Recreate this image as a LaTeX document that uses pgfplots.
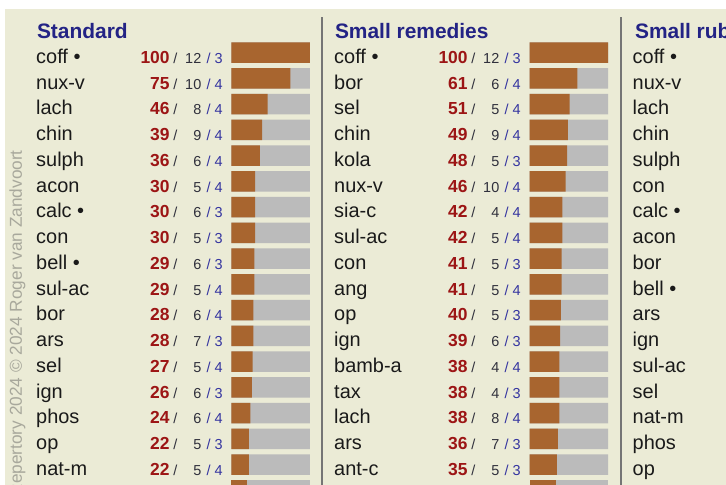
\documentclass[border=0pt]{standalone}
\usepackage{pgfplots}
\pgfplotsset{compat=1.18}
\usepackage{pgfplotstable}
\usepackage{fontspec}
\setmainfont{Liberation Sans}
\definecolor{bg}{HTML}{EBEBD6}
\definecolor{brownbar}{HTML}{A8652F}
\definecolor{graybar}{HTML}{BBBBBB}
\definecolor{scorered}{HTML}{9C1515}
\definecolor{numdark}{HTML}{30303C}
\definecolor{numblue}{HTML}{3434A0}
\definecolor{titleblue}{HTML}{232385}
\definecolor{namecol}{HTML}{1A1A1A}
\definecolor{sepgray}{HTML}{757575}
\definecolor{wmgray}{HTML}{A8A89C}

\pgfplotstableread[col sep=comma]{
row,name,score,n1,n2,full
0,coff •,100,12,3,100
1,nux-v,75,10,4,100
2,lach,46,8,4,100
3,chin,39,9,4,100
4,sulph,36,6,4,100
5,acon,30,5,4,100
6,calc •,30,6,3,100
7,con,30,5,3,100
8,bell •,29,6,3,100
9,sul-ac,29,5,4,100
10,bor,28,6,4,100
11,ars,28,7,3,100
12,sel,27,5,4,100
13,ign,26,6,3,100
14,phos,24,6,4,100
15,op,22,5,3,100
16,nat-m,22,5,4,100
}\colA

\pgfplotstableread[col sep=comma]{
row,name,score,n1,n2,full
0,coff •,100,12,3,100
1,bor,61,6,4,100
2,sel,51,5,4,100
3,chin,49,9,4,100
4,kola,48,5,3,100
5,nux-v,46,10,4,100
6,sia-c,42,4,4,100
7,sul-ac,42,5,4,100
8,con,41,5,3,100
9,ang,41,5,4,100
10,op,40,5,3,100
11,ign,39,6,3,100
12,bamb-a,38,4,4,100
13,tax,38,4,3,100
14,lach,38,8,4,100
15,ars,36,7,3,100
16,ant-c,35,5,3,100
}\colB

\pgfplotstableread[col sep=comma]{
row,name
0,coff •
1,nux-v
2,lach
3,chin
4,sulph
5,con
6,calc •
7,acon
8,bor
9,bell •
10,ars
11,ign
12,sul-ac
13,sel
14,nat-m
15,phos
16,op
}\colC

\pgfplotsset{
  colaxis/.style={
    hide axis, clip=false, scale only axis,
    x=0.785bp, y=25.75bp, y dir=reverse,
    xmin=-288, xmax=115, ymin=-1.5, ymax=17.5,
    anchor=north west,
  },
  txt/.style={draw=none, mark=none, point meta=explicit symbolic,
    every node near coord/.append style={inner sep=0pt, yshift=-10.8bp, #1}},
  bgbar/.style={xbar, bar width=20.5bp, bar shift=0pt, fill=graybar, draw=none},
  fgbar/.style={xbar, bar width=20.5bp, bar shift=0pt, fill=brownbar, draw=none},
}

\newcommand{\colbody}[1]{%
  \addplot[bgbar] table[x=full, y=row] {#1};
  \addplot[fgbar] table[x=score, y=row] {#1};
  \addplot[txt={anchor=base west, font=\fontsize{20}{24}\selectfont, text=namecol}, nodes near coords]
    table[x expr=-249, y=row, meta=name] {#1};
  \addplot[txt={anchor=base east, font=\fontsize{17.5}{20}\selectfont\bfseries, text=scorered}, nodes near coords]
    table[x expr=-78.6, y=row, meta=score] {#1};
  \addplot[txt={anchor=base west, font=\fontsize{14.5}{17}\selectfont, text=numdark}, nodes near coords={/}]
    table[x expr=-74.2, y=row, meta=score] {#1};
  \addplot[txt={anchor=base east, font=\fontsize{14.5}{17}\selectfont, text=numdark}, nodes near coords]
    table[x expr=-38.2, y=row, meta=n1] {#1};
  \addplot[txt={anchor=base east, font=\fontsize{14.5}{17}\selectfont, text=numblue}, nodes near coords={/ \pgfplotspointmeta}]
    table[x expr=-11.0, y=row, meta=n2] {#1};
}

\begin{document}
\begin{tikzpicture}
\useasboundingbox (0,0) rectangle (726bp,-485bp);
\fill[white] (0,0) rectangle (726bp,-485bp);
\fill[bg] (5bp,-9bp) rectangle (726bp,-485bp);
\begin{scope}
\clip (0,0) rectangle (726bp,-485bp);
\draw[sepgray, line width=2bp] (322.3bp,-17bp) -- (322.3bp,-490bp);
\draw[sepgray, line width=2bp] (621bp,-17bp) -- (621bp,-490bp);
\node[rotate=90, anchor=east, inner sep=0pt, text=wmgray, font=\fontsize{17.3}{20}\selectfont]
  at (17.5bp,-150bp) {Repertory 2024 © 2024 Roger van Zandvoort};

% Column 1: Standard
\begin{axis}[colaxis, at={(5.42bp,-13.875bp)}]
  \colbody{\colA}
  \addplot[bgbar] coordinates {(100,17)};
  \addplot[fgbar] coordinates {(20,17)};
  \node[anchor=base west, inner sep=0pt, yshift=-11.5bp, text=titleblue, font=\fontsize{21}{24}\selectfont\bfseries]
    at (axis cs:-248,-1) {Standard};
\end{axis}

% Column 2: Small remedies
\begin{axis}[colaxis, at={(303.42bp,-13.875bp)}]
  \colbody{\colB}
  \addplot[bgbar] coordinates {(100,17)};
  \addplot[fgbar] coordinates {(34,17)};
  \node[anchor=base west, inner sep=0pt, yshift=-11.5bp, text=titleblue, font=\fontsize{21}{24}\selectfont\bfseries]
    at (axis cs:-248,-1) {Small remedies};
\end{axis}

% Column 3: Small rubrics (cut off at the right edge, as in the reference)
\begin{axis}[colaxis, at={(601.92bp,-13.875bp)}]
  \addplot[txt={anchor=base west, font=\fontsize{20}{24}\selectfont, text=namecol}, nodes near coords]
    table[x expr=-249, y=row, meta=name] {\colC};
  \node[anchor=base west, inner sep=0pt, yshift=-11.5bp, text=titleblue, font=\fontsize{21}{24}\selectfont\bfseries]
    at (axis cs:-246,-1) {Small rubrics};
\end{axis}
\end{scope}
\end{tikzpicture}
\end{document}
